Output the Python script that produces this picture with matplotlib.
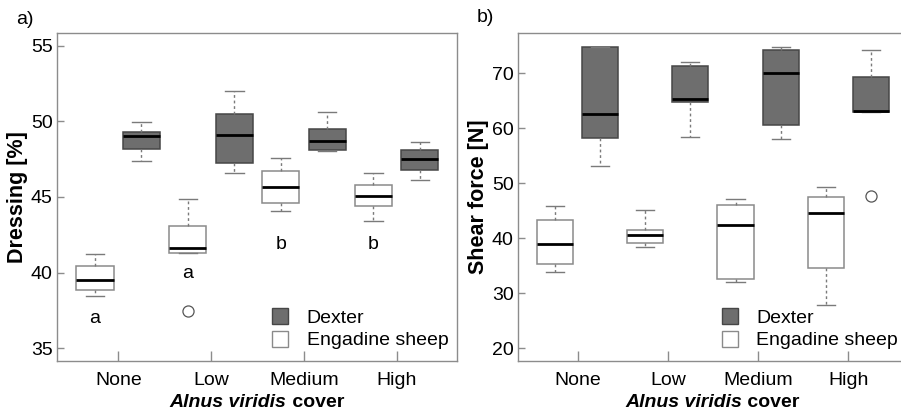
import matplotlib
matplotlib.use("Agg")
import matplotlib.pyplot as plt
from matplotlib.lines import Line2D

plt.rcParams['font.family'] = ['Liberation Sans', 'DejaVu Sans']

categories = ["None", "Low", "Medium", "High"]
groups = ["Dexter", "Engadine sheep"]

# a) Dressing [%]  -- five number summaries per cover class
dress_dexter_lo = [47.36, 46.56, 48.04, 46.10]
dress_dexter_q1 = [48.15, 47.22, 48.13, 46.81]
dress_dexter_med = [49.05, 49.10, 48.72, 47.51]
dress_dexter_q3 = [49.32, 50.48, 49.52, 48.11]
dress_dexter_hi = [49.98, 51.98, 50.62, 48.66]
dress_dexter_out = [[], [], [], []]

dress_sheep_lo = [38.44, 41.28, 44.05, 43.39]
dress_sheep_q1 = [38.88, 41.28, 44.58, 44.41]
dress_sheep_med = [39.52, 41.65, 45.64, 45.09]
dress_sheep_q3 = [40.44, 43.11, 46.70, 45.81]
dress_sheep_hi = [41.21, 44.85, 47.60, 46.61]
dress_sheep_out = [[], [37.47], [], []]

dress_letters = ["a", "a", "b", "b"]
dress_letter_y = [36.94, 39.96, 41.87, 41.87]

# b) Shear force [N]
shear_dexter_lo = [53.07, 58.47, 58.11, 63.02]
shear_dexter_q1 = [58.17, 64.78, 60.53, 63.02]
shear_dexter_med = [62.54, 65.39, 70.06, 63.20]
shear_dexter_q3 = [74.79, 71.27, 74.25, 69.27]
shear_dexter_hi = [74.79, 72.12, 74.73, 74.19]
shear_dexter_out = [[], [], [], [47.61]]

shear_sheep_lo = [33.83, 38.45, 32.14, 27.95]
shear_sheep_q1 = [35.41, 39.11, 32.62, 34.62]
shear_sheep_med = [38.93, 40.57, 42.33, 44.51]
shear_sheep_q3 = [43.36, 41.54, 46.09, 47.49]
shear_sheep_hi = [45.85, 45.06, 47.12, 49.37]
shear_sheep_out = [[], [], [], []]

dexter_fill = "#6e6e6e"
dexter_edge = "#464646"
sheep_edge = "#8a8a8a"
spine_col = "#8c8c8c"


def make_stats(lo, q1, med, q3, hi, out):
    stats = []
    for i in range(len(med)):
        stats.append({"whislo": lo[i], "q1": q1[i], "med": med[i],
                      "q3": q3[i], "whishi": hi[i], "fliers": out[i]})
    return stats


def draw_group(ax, stats, offset, face, edge):
    pos = [i + 1 + offset for i in range(len(stats))]
    ax.bxp(stats, positions=pos, widths=0.4, patch_artist=True,
           showfliers=True, capwidths=0.2,
           boxprops=dict(facecolor=face, edgecolor=edge, linewidth=1.1),
           medianprops=dict(color="black", linewidth=2),
           whiskerprops=dict(color="#7a7a7a", linestyle=(0, (2, 2)), linewidth=1),
           capprops=dict(color="#7a7a7a", linewidth=1),
           flierprops=dict(marker="o", markerfacecolor="white",
                           markeredgecolor="#555555", markersize=8,
                           markeredgewidth=0.9))


def style_axes(ax, ylim, yticks, ylabel, leg_x):
    ax.set_xlim(0.34, 4.65)
    ax.set_ylim(*ylim)
    ax.set_yticks(yticks)
    ax.set_xticks(range(1, len(categories) + 1))
    ax.set_xticklabels(categories)
    for s in ax.spines.values():
        s.set_color(spine_col)
        s.set_linewidth(1)
    ax.tick_params(axis="y", direction="in", length=5, width=1, color=spine_col,
                   labelsize=14, pad=3)
    ax.tick_params(axis="x", direction="in", length=7, width=1, color=spine_col,
                   labelsize=14, pad=8)
    ax.set_ylabel(ylabel, fontsize=15.5, fontweight="bold", labelpad=2)
    handles = [Line2D([], [], marker="s", linestyle="", markersize=11,
                      markerfacecolor=dexter_fill, markeredgecolor=dexter_edge),
               Line2D([], [], marker="s", linestyle="", markersize=11,
                      markerfacecolor="white", markeredgecolor=sheep_edge)]
    ax.legend(handles, groups, loc="lower left", bbox_to_anchor=(leg_x, 0.0),
              frameon=False, fontsize=14, handlelength=1.2, handletextpad=0.75,
              labelspacing=0.25, borderaxespad=0.2)


def xlabel(fig, ax):
    r = fig.canvas.get_renderer()
    t1 = ax.text(0.5, -0.128, "Alnus viridis", transform=ax.transAxes,
                 fontsize=14, fontweight="bold", fontstyle="italic",
                 ha="left", va="center")
    t2 = ax.text(0.5, -0.128, " cover", transform=ax.transAxes,
                 fontsize=14, fontweight="bold", ha="left", va="center")
    w1 = t1.get_window_extent(r).width
    w2 = t2.get_window_extent(r).width
    axw = ax.get_window_extent(r).width
    start = 0.5 - (w1 + w2) / 2 / axw
    t1.set_x(start)
    t2.set_x(start + w1 / axw)


fig = plt.figure(figsize=(9.01, 4.11), dpi=100)
ax1 = fig.add_axes([57 / 901, 50 / 411, 400 / 901, 328 / 411])
ax2 = fig.add_axes([518 / 901, 50 / 411, 389 / 901, 328 / 411])

draw_group(ax1, make_stats(dress_sheep_lo, dress_sheep_q1, dress_sheep_med,
                           dress_sheep_q3, dress_sheep_hi, dress_sheep_out),
           -0.25, "white", sheep_edge)
draw_group(ax1, make_stats(dress_dexter_lo, dress_dexter_q1, dress_dexter_med,
                           dress_dexter_q3, dress_dexter_hi, dress_dexter_out),
           0.25, dexter_fill, dexter_edge)
style_axes(ax1, (34.16, 55.84), [35, 40, 45, 50, 55], "Dressing [%]", 0.5)
for i, (lab, y) in enumerate(zip(dress_letters, dress_letter_y)):
    ax1.text(i + 1 - 0.25, y, lab, fontsize=14, ha="center", va="center")

draw_group(ax2, make_stats(shear_sheep_lo, shear_sheep_q1, shear_sheep_med,
                           shear_sheep_q3, shear_sheep_hi, shear_sheep_out),
           -0.25, "white", sheep_edge)
draw_group(ax2, make_stats(shear_dexter_lo, shear_dexter_q1, shear_dexter_med,
                           shear_dexter_q3, shear_dexter_hi, shear_dexter_out),
           0.25, dexter_fill, dexter_edge)
style_axes(ax2, (17.7, 77.3), [20, 30, 40, 50, 60, 70], "Shear force [N]", 0.485)

fig.text(16 / 901, 1 - 20 / 411, "a)", fontsize=14, va="center")
fig.text(477 / 901, 1 - 17 / 411, "b)", fontsize=14, va="center")

xlabel(fig, ax1)
xlabel(fig, ax2)

fig.savefig("out.png", dpi=100)
